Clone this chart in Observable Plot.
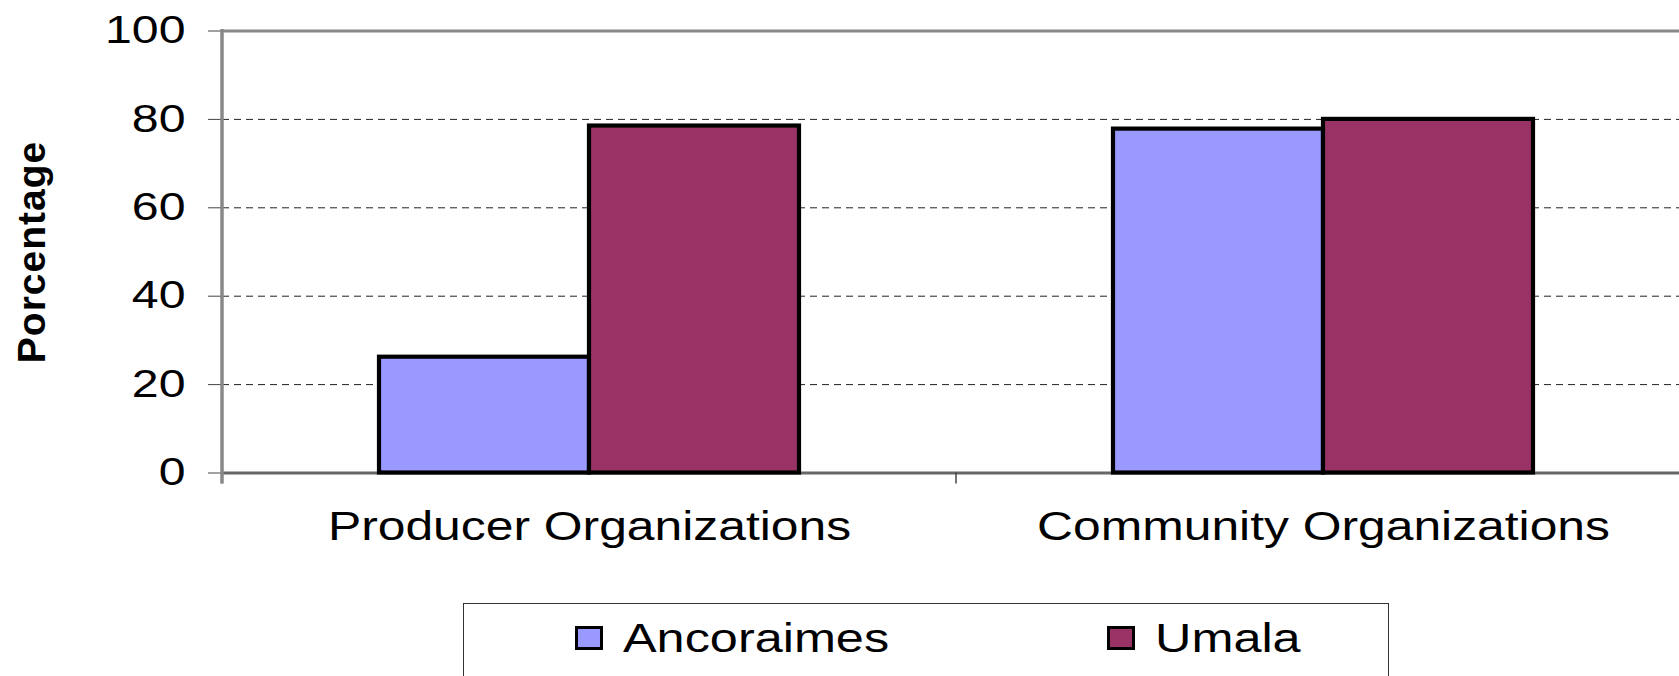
<!DOCTYPE html>
<html>
<head>
<meta charset="utf-8">
<script src="https://cdn.jsdelivr.net/npm/d3@7"></script>
<script src="https://cdn.jsdelivr.net/npm/@observablehq/plot@0.6"></script>
<style>
  html, body { margin: 0; padding: 0; background: #fff; overflow: hidden; width: 1679px; height: 676px; }
  #chart svg { display: block; max-width: none !important; }
  #legend {
    position: absolute; left: 463px; top: 603px; width: 926px; height: 140px;
    border: 1.5px solid #333; box-sizing: border-box; background: #fff;
    font-family: "Liberation Sans", Arial, sans-serif; font-size: 40px; line-height: 40px;
    display: flex; align-items: flex-start; padding-left: 111px; padding-top: 13.5px;
  }
  #legend .item { display: flex; align-items: center; width: 532px; height: 40px; flex: 0 0 532px; }
  #legend .sw { width: 28px; height: 24px; border: 3px solid #000; box-sizing: border-box; margin-right: 20px; flex: 0 0 auto; }
  #legend .lab { display: inline-block; transform: scaleX(1.26); transform-origin: left center; white-space: nowrap; }
</style>
</head>
<body>
<div id="chart"></div>
<div id="legend"></div>
<script>
const categories = ["Producer Organizations", "Community Organizations"];
const sites = ["Ancoraimes", "Umala"];
const ancoraimes = [26.2, 77.8];
const umala = [78.5, 80.0];
const colors = ["#9999FF", "#993366"];
const yTicks = [0, 20, 40, 60, 80, 100];
const yLabel = "Porcentage";

const data = categories.flatMap((c, i) => [
  {category: c, site: sites[0], value: ancoraimes[i]},
  {category: c, site: sites[1], value: umala[i]}
]);

const plot = Plot.plot({
  width: 1700,
  height: 600,
  marginLeft: 222,
  marginRight: 10,
  marginTop: 30.5,
  marginBottom: 127.5,
  style: {fontFamily: '"Liberation Sans", Arial, sans-serif', background: "white", overflow: "visible", color: "#000", maxWidth: "none"},
  fx: {domain: categories, padding: 0, label: null},
  x: {domain: sites, paddingInner: 0, paddingOuter: 0.74, axis: null},
  y: {domain: [0, 100], label: null},
  color: {domain: sites, range: colors},
  marks: [
    Plot.gridY(yTicks.filter(t => t > 0 && t < 100), {stroke: "#222", strokeOpacity: 1, strokeDasharray: "7,5", strokeWidth: 1}),
    Plot.ruleY([100], {stroke: "#888", strokeWidth: 3}),
    Plot.ruleY([0], {stroke: "#666", strokeWidth: 3}),
    Plot.barY(data, {fx: "category", x: "site", y: "value", fill: "site", stroke: "#000", strokeWidth: 4.2}),
    Plot.axisY(yTicks, {tickSize: 14, tickPadding: 23, fontSize: 38, stroke: "#444", label: null}),
    Plot.axisFx({anchor: "bottom", tickSize: 0, tickPadding: 39, fontSize: 40, label: null}),
    Plot.text([yLabel], {fx: () => categories[0], frameAnchor: "left", textAnchor: "middle", dx: -190, rotate: -90, fontSize: 39, fontWeight: "bold", fill: "#000"})
  ]
});

document.getElementById("chart").append(plot);

// Axis line and category boundary ticks, positioned from Plot's own scales
const fxs = plot.scale("fx"), ys = plot.scale("y");
const y0 = ys.apply(0), y100 = ys.apply(100);
const edges = [fxs.apply(categories[0]), ...categories.map(c => fxs.apply(c) + fxs.bandwidth)];
const svg = d3.select(plot);
const g = svg.append("g").attr("aria-label", "category boundaries");
g.selectAll("line.tick").data(edges).join("line")
  .attr("x1", d => d).attr("x2", d => d)
  .attr("y1", y0).attr("y2", y0 + 11)
  .attr("stroke", "#444").attr("stroke-width", 1.5);
g.append("line")
  .attr("x1", edges[0]).attr("x2", edges[0])
  .attr("y1", y100 - 1.5).attr("y2", y0 + 11)
  .attr("stroke", "#888").attr("stroke-width", 3.5);

// horizontally stretched lettering as in the reference
svg.selectAll('g[aria-label="y-axis tick label"] text').each(function() {
  const L = this.getComputedTextLength();
  this.setAttribute("textLength", (L * 1.27).toFixed(1));
  this.setAttribute("lengthAdjust", "spacingAndGlyphs");
});
svg.selectAll('g[aria-label="fx-axis tick label"] text').each(function() {
  const L = this.getComputedTextLength();
  this.setAttribute("textLength", (L * 1.245).toFixed(1));
  this.setAttribute("lengthAdjust", "spacingAndGlyphs");
});
svg.selectAll('g[aria-label="text"] text').style("letter-spacing", "1px");

// legend
const legend = d3.select("#legend");
sites.forEach((s, i) => {
  const item = legend.append("div").attr("class", "item");
  item.append("div").attr("class", "sw").style("background", colors[i]);
  item.append("span").attr("class", "lab").text(s);
});
</script>
</body>
</html>
